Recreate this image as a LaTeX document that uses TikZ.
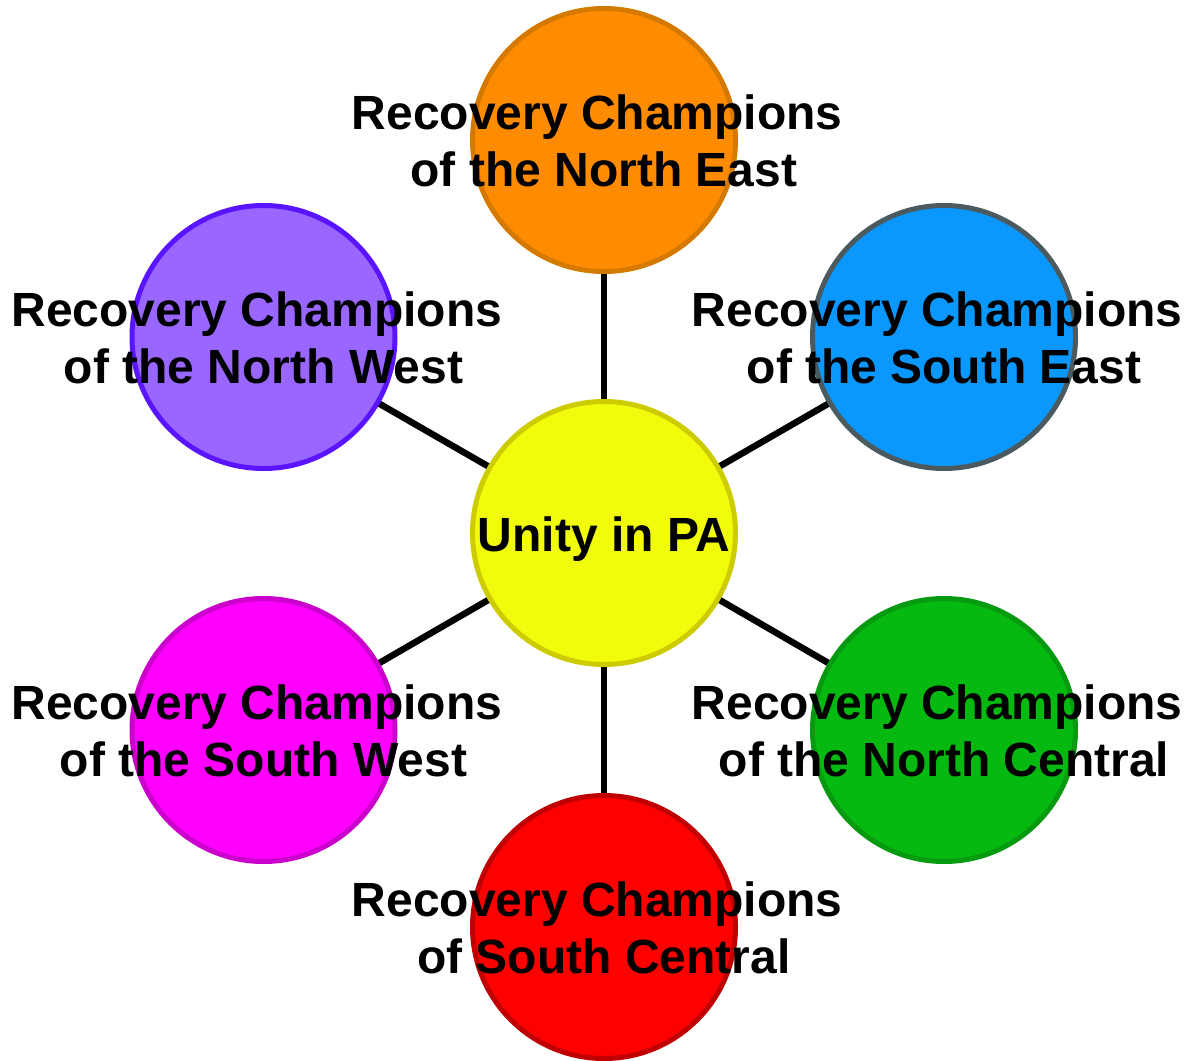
\documentclass[tikz,border=0pt]{standalone}
\usepackage{fontspec}
\setmainfont{Liberation Sans}
\usetikzlibrary{backgrounds}

% fill and outline colours of the circles
\definecolor{unityFill}{HTML}{F0FC0C}
\definecolor{unityLine}{HTML}{CCCC00}
\definecolor{neFill}{HTML}{FF8B00}
\definecolor{neLine}{HTML}{D57A00}
\definecolor{nwFill}{HTML}{9966FF}
\definecolor{nwLine}{HTML}{5A14FF}
\definecolor{seFill}{HTML}{0A98FF}
\definecolor{seLine}{HTML}{4B5A5E}
\definecolor{swFill}{HTML}{FF00FF}
\definecolor{swLine}{HTML}{CC00CC}
\definecolor{ncFill}{HTML}{05B910}
\definecolor{ncLine}{HTML}{079A10}
\definecolor{scFill}{HTML}{FF0000}
\definecolor{scLine}{HTML}{C00000}

\begin{document}
\begin{tikzpicture}[x=1pt,y=-1pt,
  hub/.style={circle, minimum size=263pt, inner sep=0pt, line width=5pt},
  caption/.style={align=center, inner sep=0pt,
    font=\fontsize{48}{57}\selectfont\bfseries},
  spoke/.style={line width=6.5pt, black}]
\useasboundingbox (0,0) rectangle (1188,1060);

% circles
\node[hub, fill=unityFill, draw=unityLine] (unity) at (604,533) {};
\node[hub, fill=neFill, draw=neLine] (ne) at (604,140) {};
\node[hub, fill=nwFill, draw=nwLine] (nw) at (263.5,337) {};
\node[hub, fill=seFill, draw=seLine] (se) at (944,337) {};
\node[hub, fill=swFill, draw=swLine] (sw) at (263.5,730) {};
\node[hub, fill=ncFill, draw=ncLine] (nc) at (944,730) {};
\node[hub, fill=scFill, draw=scLine] (sc) at (604,927) {};

% spokes from the centre, behind the circles
\begin{scope}[on background layer]
  \foreach \n in {ne,nw,se,sw,nc,sc}
    \draw[spoke] (unity.center) -- (\n.center);
\end{scope}

% texts (first lines keep their trailing space)
\node[caption] (unity-text) at ([yshift=-7pt]unity.center) {\strut Unity in PA};
\node[caption] (ne-text) at ([yshift=-7pt]ne.center)
  {\strut Recovery Champions\kern.278em\\\strut of the North East};
\node[caption] (nw-text) at ([yshift=-7pt]nw.center)
  {\strut Recovery Champions\kern.278em\\\strut of the North West};
\node[caption] (se-text) at ([yshift=-7pt]se.center)
  {\strut Recovery Champions\kern.278em\\\strut of the South East};
\node[caption] (sw-text) at ([yshift=-7pt]sw.center)
  {\strut Recovery Champions\kern.278em\\\strut of the South West};
\node[caption] (nc-text) at ([yshift=-7pt]nc.center)
  {\strut Recovery Champions\kern.278em\\\strut of the North Central};
\node[caption] (sc-text) at ([yshift=-7pt]sc.center)
  {\strut Recovery Champions\kern.278em\\\strut of South Central};
\end{tikzpicture}
\end{document}
